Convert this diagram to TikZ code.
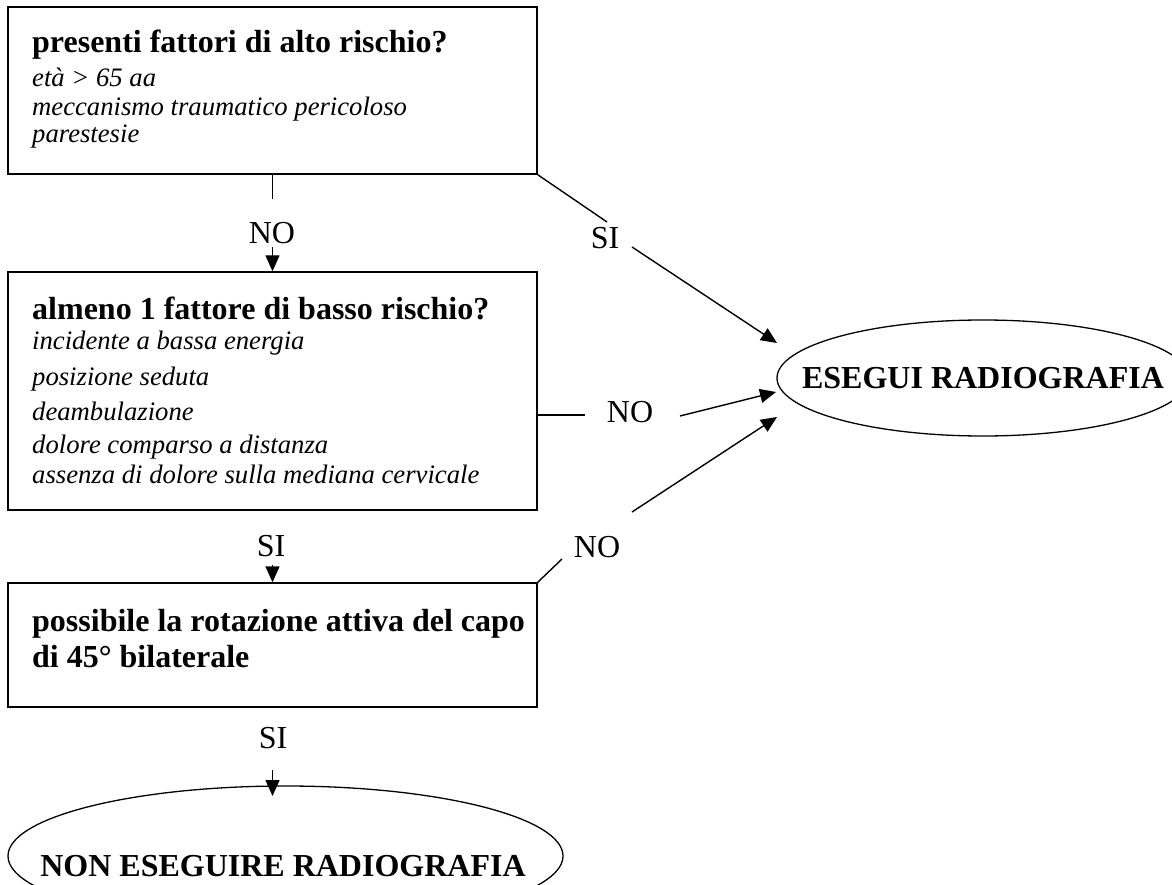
\documentclass[tikz,border=0pt]{standalone}
\usepackage{fontspec}
\setmainfont{Liberation Serif}
\usetikzlibrary{arrows.meta,shapes.geometric}
\begin{document}
\begin{tikzpicture}[x=1pt,y=-1pt,
  box/.style={draw,line width=1.4pt,rectangle,inner sep=0pt,minimum width=529pt},
  oval/.style={draw,line width=1.3pt,ellipse,inner sep=0pt},
  hd/.style={anchor=base west,inner sep=0pt,font=\fontsize{32}{38}\selectfont\bfseries},
  it/.style={anchor=base west,inner sep=0pt,font=\fontsize{26.67}{32}\selectfont\itshape},
  lbl/.style={inner sep=0pt,font=\fontsize{32}{38}\selectfont},
  ln/.style={line width=1.4pt},
  arr/.style={line width=1.4pt,-{Triangle[length=16pt,width=14pt]}}]
\useasboundingbox (0,0) rectangle (1172,885);
\clip (0,0) rectangle (1172,885);
% boxes
\node[box,minimum height=167pt] (b1) at (272.5,90.5) {};
\node[box,minimum height=238pt] (b2) at (272.5,391) {};
\node[box,minimum height=124pt] (b3) at (272.5,645) {};
\node[oval,minimum width=412pt,minimum height=116pt] (e1) at (983,378) {};
\node[oval,minimum width=555pt,minimum height=140pt] (e2) at (285.5,856) {};
% box texts
\node[hd] (t11) at (32,53) {presenti fattori di alto rischio?};
\node[it] (t12) at (32,87) {età > 65 aa};
\node[it] (t13) at (32,116) {meccanismo traumatico pericoloso};
\node[it] (t14) at (32,143) {parestesie};
\node[hd] (t21) at (32,319) {almeno 1 fattore di basso rischio?};
\node[it] (t22) at (32,349) {incidente a bassa energia};
\node[it] (t23) at (32,385) {posizione seduta};
\node[it] (t24) at (32,420) {deambulazione};
\node[it] (t25) at (32,453) {dolore comparso a distanza};
\node[it] (t26) at (32,483) {assenza di dolore sulla mediana cervicale};
\node[hd] (t31) at (32,631) {possibile la rotazione attiva del capo};
\node[hd] (t32) at (32,667) {di 45° bilaterale};
\node[hd,anchor=center] (te1) at (983,378) {ESEGUI RADIOGRAFIA};
\node[hd,anchor=center] (te2) at (283,866) {NON ESEGUIRE RADIOGRAFIA};
% labels
\node[lbl] (l1) at (272,233) {NO};
\node[lbl] (l2) at (605,238) {SI};
\node[lbl] (l3) at (630,412) {NO};
\node[lbl] (l4) at (271,546) {SI};
\node[lbl] (l5) at (597,547) {NO};
\node[lbl] (l6) at (273,738) {SI};
% connector coordinates
\coordinate (c1a) at (272.5,199);
\coordinate (c1b) at (272.5,247);
\coordinate (s1a) at (607,222);
\coordinate (s1b) at (632,247);
\coordinate (s1t) at (777,343);
\coordinate (n2a) at (537,415);
\coordinate (n2b) at (585,415);
\coordinate (n2c) at (680,416);
\coordinate (n2t) at (776,392);
\coordinate (c2b) at (272.5,565);
\coordinate (n3a) at (562,559);
\coordinate (n3b) at (632,512);
\coordinate (n3t) at (777,417);
\coordinate (c3b) at (272.5,770);
\coordinate (c3t) at (272.5,796);
% connectors
\draw[ln] (b1.south) -- (c1a);
\draw[arr] (c1b) -- (b2.north);
\draw[ln] (b1.south east) -- (s1a);
\draw[arr] (s1b) -- (s1t);
\draw[ln] (n2a) -- (n2b);
\draw[arr] (n2c) -- (n2t);
\draw[arr] (c2b) -- (b3.north);
\draw[ln] (b3.north east) -- (n3a);
\draw[arr] (n3b) -- (n3t);
\draw[arr] (c3b) -- (c3t);
\end{tikzpicture}
\end{document}
